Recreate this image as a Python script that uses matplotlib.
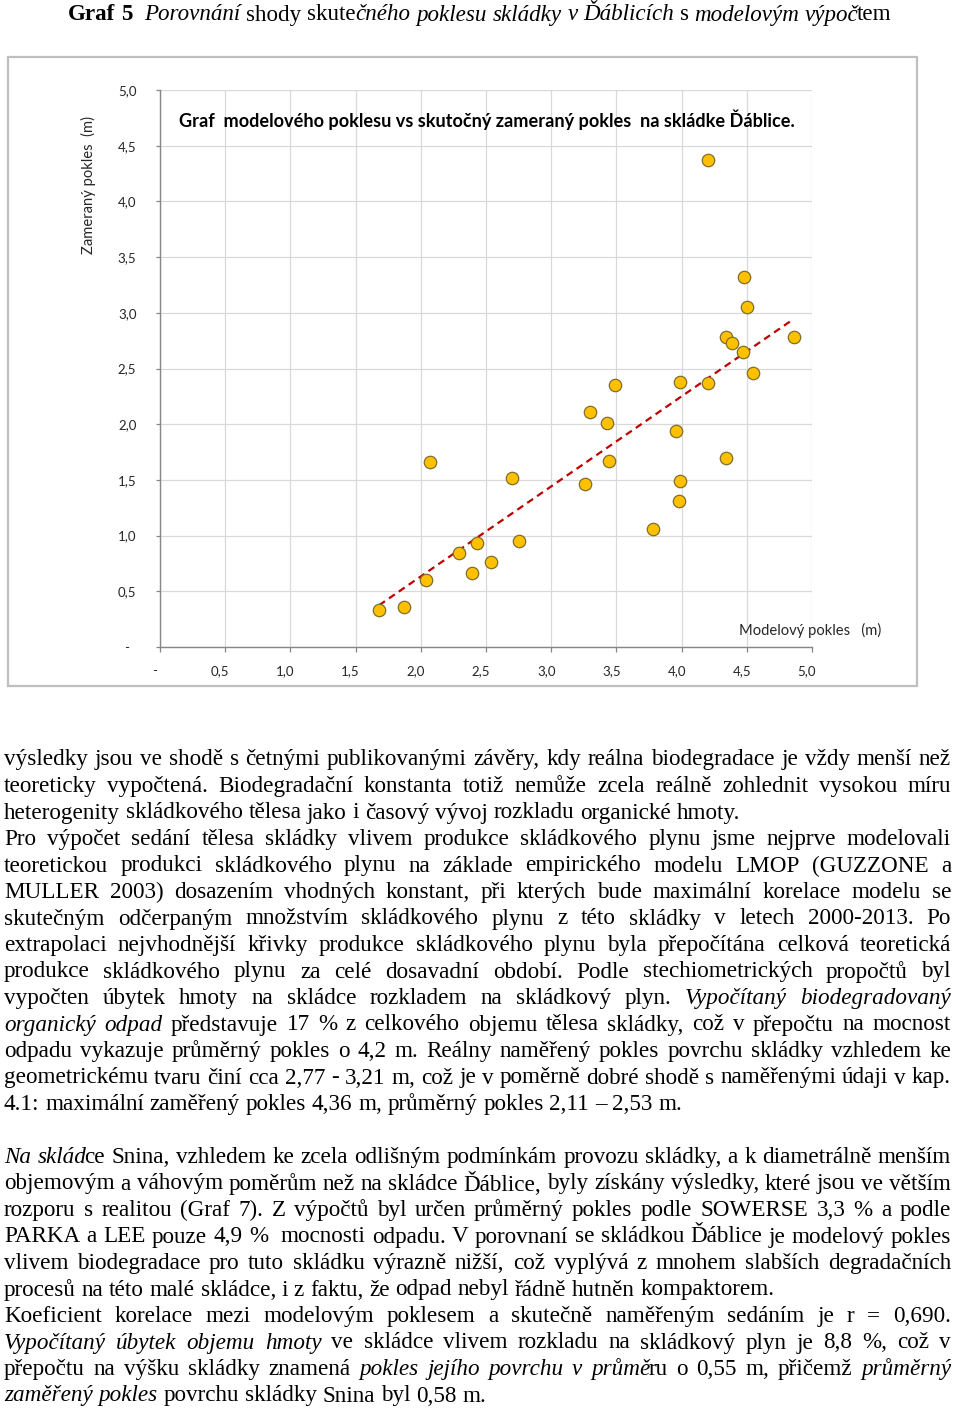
import matplotlib
matplotlib.use("Agg")
import matplotlib.pyplot as plt
import matplotlib.patches as patches
import matplotlib.transforms as mtransforms
from matplotlib.ticker import FuncFormatter

W, H = 960, 1412

# modelovy vs. zamerany pokles (m)
model_x = [1.68, 1.87, 2.04, 2.07, 2.29, 2.39, 2.43, 2.54, 2.70, 2.75,
           3.26, 3.30, 3.43, 3.44, 3.49, 3.78, 3.96, 3.98, 3.99, 3.99,
           4.20, 4.34, 4.55, 4.20, 4.48, 4.50, 4.34, 4.39, 4.47, 4.86]
measured_y = [0.33, 0.36, 0.60, 1.66, 0.84, 0.66, 0.93, 0.76, 1.52, 0.95,
              1.46, 2.11, 2.01, 1.67, 2.35, 1.06, 1.94, 1.31, 2.38, 1.49,
              2.37, 1.70, 2.46, 4.37, 3.32, 3.05, 2.78, 2.73, 2.65, 2.78]
trend_x = [1.68, 4.86]
trend_y = [0.375, 2.945]
x_ticks = [0, 0.5, 1.0, 1.5, 2.0, 2.5, 3.0, 3.5, 4.0, 4.5, 5.0]
y_ticks = [0, 0.5, 1.0, 1.5, 2.0, 2.5, 3.0, 3.5, 4.0, 4.5, 5.0]

chart_title = "Graf  modelového poklesu vs skutočný zameraný pokles  na skládke Ďáblice."
x_label = "Modelový pokles   (m)"
y_label = "Zameraný pokles  (m)"

heading = "#Graf 5#  *Porovnání* shody skute*čného poklesu skládky v Ďáblicích* s *modelovým výpoč*tem"

# (text radku, zarovnat do bloku); None = prazdny radek
body = [
    ("výsledky jsou ve shodě s četnými publikovanými závěry, kdy reálna biodegradace je vždy menší než", True),
    ("teoreticky vypočtená. Biodegradační konstanta totiž nemůže zcela reálně zohlednit vysokou míru", True),
    ("heterogenity skládkového tělesa jako i časový vývoj rozkladu organické hmoty.", False),
    ("Pro výpočet sedání tělesa skládky vlivem produkce skládkového plynu jsme nejprve modelovali", True),
    ("teoretickou produkci skládkového plynu na základe empirického modelu LMOP (GUZZONE a", True),
    ("MULLER 2003) dosazením vhodných konstant, při kterých bude maximální korelace modelu se", True),
    ("skutečným odčerpaným množstvím skládkového plynu z této skládky v letech 2000-2013. Po", True),
    ("extrapolaci nejvhodnější křivky produkce skládkového plynu byla přepočítána celková teoretická", True),
    ("produkce skládkového plynu za celé dosavadní období. Podle stechiometrických propočtů byl", True),
    ("vypočten úbytek hmoty na skládce rozkladem na skládkový plyn. *Vypočítaný biodegradovaný*", True),
    ("*organický odpad* představuje 17 % z celkového objemu tělesa skládky, což v přepočtu na mocnost", True),
    ("odpadu vykazuje průměrný pokles o 4,2 m. Reálny naměřený pokles povrchu skládky vzhledem ke", True),
    ("geometrickému tvaru činí cca 2,77 - 3,21 m, což je v poměrně dobré shodě s naměřenými údaji v kap.", True),
    ("4.1: maximální zaměřený pokles 4,36 m, průměrný pokles 2,11 – 2,53 m.", False),
    None,
    ("*Na sklád*ce Snina, vzhledem ke zcela odlišným podmínkám provozu skládky, a k diametrálně menším", True),
    ("objemovým a váhovým poměrům než na skládce Ďáblice, byly získány výsledky, které jsou ve větším", True),
    ("rozporu s realitou (Graf 7). Z výpočtů byl určen průměrný pokles podle SOWERSE 3,3 % a podle", True),
    ("PARKA a LEE pouze 4,9 %  mocnosti odpadu. V porovnaní se skládkou Ďáblice je modelový pokles", True),
    ("vlivem biodegradace pro tuto skládku výrazně nižší, což vyplývá z mnohem slabších degradačních", True),
    ("procesů na této malé skládce, i z faktu, že odpad nebyl řádně hutněn kompaktorem.", False),
    ("Koeficient korelace mezi modelovým poklesem a skutečně naměřeným sedáním je r = 0,690.", True),
    ("*Vypočítaný úbytek objemu hmoty* ve skládce vlivem rozkladu na skládkový plyn je 8,8 %, což v", True),
    ("přepočtu na výšku skládky znamená *pokles jejího povrchu v průmě*ru o 0,55 m, přičemž *průměrný*", True),
    ("*zaměřený pokles* povrchu skládky Snina byl 0,58 m.", False),
]

SERIF = "Liberation Serif"
SANS = "Lato"


def fx(x):
    return x / W


def fy(y):
    return 1 - y / H


fig = plt.figure(figsize=(W / 100, H / 100), dpi=100)
renderer = fig.canvas.get_renderer()


def text_width(s, size, style="normal", weight="normal", family=SERIF):
    t = fig.text(0, 0, s, fontsize=size, family=family, style=style, weight=weight)
    w = t.get_window_extent(renderer).width
    t.remove()
    return w


def parse(line):
    # '*' prepina kurzivu, '#' prepina tucne
    words = []
    italic, bold = False, False
    for raw in line.split(" "):
        pieces, buf = [], ""
        for ch in raw:
            if ch in "*#":
                if buf:
                    pieces.append((buf, italic, bold))
                buf = ""
                if ch == "*":
                    italic = not italic
                else:
                    bold = not bold
            else:
                buf += ch
        if buf:
            pieces.append((buf, italic, bold))
        words.append(pieces)
    return words


def measure(words, size):
    out = []
    for w in words:
        ws = []
        for i, (s, it, bd) in enumerate(w):
            wd = text_width(s, size, "italic" if it else "normal",
                            "bold" if bd else "normal")
            # kurziva konci presahem, uvnitr slova ho ubrat
            if it and i < len(w) - 1:
                wd -= 0.12 * size
            ws.append(wd)
        out.append(ws)
    return out


def natural_width(line, size):
    words = parse(line)
    ws = measure(words, size)
    space = text_width("n n", size) - text_width("nn", size)
    return sum(sum(w) for w in ws) + space * (len(words) - 1)


def draw_line(line, x0, x1, y, size, justify):
    words = parse(line)
    ws = measure(words, size)
    space = text_width("n n", size) - text_width("nn", size)
    total = sum(sum(w) for w in ws)
    if justify and len(words) > 1:
        gap = (x1 - x0 - total) / (len(words) - 1)
    else:
        gap = space
    x = x0
    for w, pw in zip(words, ws):
        for (s, it, bd), wd in zip(w, pw):
            fig.text(fx(x), fy(y), s, fontsize=size, family=SERIF,
                     style="italic" if it else "normal",
                     weight="bold" if bd else "normal",
                     ha="left", va="center", color="black")
            x += wd
        x += gap


# velikost pisma podle sirky radku v predloze
body_size = 10 * 736 / natural_width(body[2][0], 10)
head_size = 10 * 825 / natural_width(heading, 10)

draw_line(heading, 68, 893, 15, head_size, False)

y0, step = 760, 26.5
for k, item in enumerate(body):
    if item is None:
        continue
    line, just = item
    draw_line(line, 4, 951, y0 + k * step, body_size, just)

# ramecek grafu
fig.patches.append(patches.Rectangle((fx(8), fy(686)), (917 - 8) / W, (686 - 57) / H,
                                     transform=fig.transFigure, fill=False,
                                     edgecolor="#bfbfbf", linewidth=1.6))

ax = fig.add_axes([fx(160), fy(647), (812 - 160) / W, (647 - 90) / H])
ax.set_xlim(0, 5)
ax.set_ylim(0, 5)
ax.set_xticks(x_ticks)
ax.set_yticks(y_ticks)


def fmt_x(v, pos):
    return "-" if abs(v) < 1e-9 else f"{v:.1f}".replace(".", ",")


def fmt_y(v, pos):
    return "-  " if abs(v) < 1e-9 else f"{v:.1f}".replace(".", ",")


ax.xaxis.set_major_formatter(FuncFormatter(fmt_x))
ax.yaxis.set_major_formatter(FuncFormatter(fmt_y))
ax.grid(True, color="#d9d9d9", linewidth=0.9)
ax.set_axisbelow(True)
for side in ["top", "right"]:
    ax.spines[side].set_visible(False)
for side in ["left", "bottom"]:
    ax.spines[side].set_color("#868686")
    ax.spines[side].set_linewidth(1.0)
ax.tick_params(axis="x", direction="out", length=3.6, width=0.9, color="#868686",
               labelsize=9.5, pad=9.5, labelcolor="#262626")
ax.tick_params(axis="y", direction="out", length=3, width=0.9, color="#868686",
               labelsize=9.5, pad=14, labelcolor="#262626")
for lab in ax.get_xticklabels() + ax.get_yticklabels():
    lab.set_family(SANS)
shift = mtransforms.ScaledTranslation(-5 / 100, 0, fig.dpi_scale_trans)
for tick in ax.xaxis.get_major_ticks():
    tick.label1.set_transform(tick.label1.get_transform() + shift)

ax.plot(trend_x, trend_y, color="#c00000", linewidth=1.6,
        linestyle=(0, (3.2, 2.2)), zorder=2)
ax.scatter(model_x, measured_y, s=80, color="#ffc000", edgecolors="#7f6f2a",
           linewidths=0.9, zorder=3)

title_size = 10 * 618 / text_width(chart_title, 10, weight="bold", family=SANS)
fig.text(fx(179), fy(120), chart_title, fontsize=title_size, family=SANS,
         weight="bold", ha="left", va="center", color="black")
fig.text(fx(739), fy(630), x_label, fontsize=10.6, family=SANS,
         ha="left", va="center", color="#262626")
fig.text(fx(88), fy(185), y_label, fontsize=10.6, family=SANS, rotation=90,
         ha="center", va="center", color="#262626")

fig.savefig("out.png", dpi=100)
